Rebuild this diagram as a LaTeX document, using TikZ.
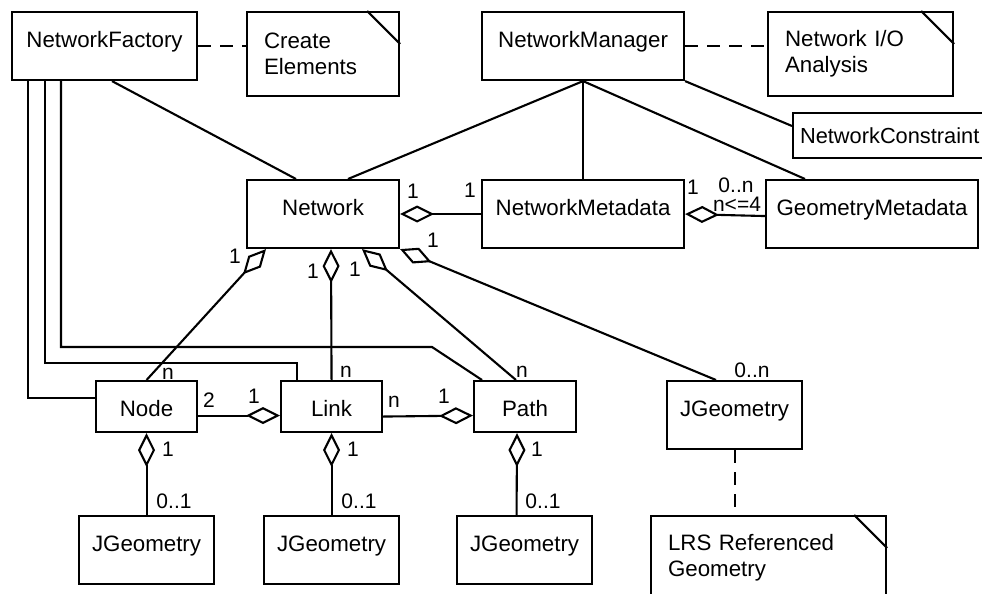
\documentclass[tikz,border=0pt]{standalone}
\usepackage{fontspec}
\setmainfont{Liberation Sans}
\usepackage{tikz}
\usetikzlibrary{arrows.meta, calc}

\begin{document}
\begin{tikzpicture}[x=1pt, y=-1pt, line width=2.1pt,
  classbox/.style={draw, anchor=north west, inner xsep=0pt, inner ysep=0pt,
    font=\fontsize{22.3}{26}\selectfont, text height=35pt, text depth=33pt},
  smallbox/.style={classbox, text height=35pt, text depth=16pt},
  notebox/.style={draw, anchor=north west, inner xsep=17pt, inner ysep=0pt, align=left,
    font=\fontsize{22.3}{26}\selectfont, minimum height=84pt},
  mult/.style={anchor=base, inner sep=0pt, font=\fontsize{21}{24}\selectfont},
  agg/.style={-{Diamond[open, length=34pt, width=17pt]}},
  notelink/.style={dash pattern=on 13pt off 9pt}]
  \fill[white] (0,0) rectangle (982,594);
  \useasboundingbox (0,0) rectangle (982,594);

  \node[classbox, minimum width=185pt] (nf) at (11,11) {NetworkFactory};
  \node[notebox, text width=118pt] (ce) at (246,11) {Create\\Elements};
  \node[classbox, minimum width=202pt] (nm) at (481,11) {NetworkManager};
  \node[notebox, text width=151pt] (nio) at (767,11) {Network I/O\\Analysis};
  \node[classbox, font=\fontsize{21.8}{26}\selectfont, text height=30pt, text depth=15pt, inner xsep=7pt] (ncon) at (792,112) {NetworkConstraint};
  \node[classbox, minimum width=152pt] (net) at (246,179) {Network};
  \node[classbox, minimum width=202pt] (nmeta) at (481,179) {NetworkMetadata};
  \node[classbox, minimum width=212pt] (gmeta) at (765,179) {GeometryMetadata};
  \node[smallbox, minimum width=101pt] (clnode) at (95,380) {Node};
  \node[smallbox, minimum width=101pt] (cllink) at (280,380) {Link};
  \node[smallbox, minimum width=102pt] (clpath) at (473,380) {Path};
  \node[classbox, minimum width=135pt] (jgr) at (666,380) {JGeometry};
  \node[classbox, minimum width=135pt] (jgnode) at (78,515) {JGeometry};
  \node[classbox, minimum width=135pt] (jglink) at (263,515) {JGeometry};
  \node[classbox, minimum width=135pt] (jgpath) at (456,515) {JGeometry};
  \node[notebox, text width=201pt] (lrs) at (650,515) {LRS Referenced\\Geometry};

  \foreach \n in {ce, nio, lrs}
    \draw ($(\n.north east)+(-33,0)$) -- ($(\n.north east)+(0,33)$);

  \draw[notelink] (nf.east) -- (nf.east -| ce.west);
  \draw[notelink] (nm.east) -- (nm.east -| nio.west);
  \draw[notelink] (jgr.south) -- (jgr.south |- lrs.north);

  \draw ($(nf.south west)+(17,0)$) |- ($(clnode.west)+(0,-8.5)$);
  \draw ($(nf.south west)+(34,0)$) |- ($(cllink.north west)+(17,-17)$) -- ($(cllink.north west)+(17,0)$);
  \draw ($(nf.south west)+(50,0)$) |- ($(clpath.north west)+(-41,-33)$) -- ($(clpath.north west)+(9,0)$);
  \draw ($(nf.south west)+(101,0)$) -- ($(net.north west)+(50,0)$);
  \draw (nm.south) -- ($(net.north west)+(102,0)$);
  \draw (nm.south) -- (nmeta.north);
  \draw (nm.south) -- ($(gmeta.north west)+(40,0)$);
  \draw (nm.south east) -- ($(ncon.north west)+(0,14)$);

  \draw[agg] (nmeta.west) -- (net.east);
  \draw[agg] ($(gmeta.west)+(0,2)$) -- (nmeta.east);
  \draw[agg] (clnode.north) -- ($(net.south west)+(20,0)$);
  \draw[agg] (cllink.north) -- ($(net.south west)+(85,0)$);
  \draw[agg] ($(clpath.north west)+(43,0)$) -- ($(net.south west)+(116,0)$);
  \draw[agg] ($(jgr.north west)+(50,0)$) -- (net.south east);
  \draw[agg] ($(clnode.east)+(0,9)$) -- ($(cllink.west)+(0,9)$);
  \draw[agg] ($(cllink.east)+(0,10)$) -- ($(clpath.west)+(0,9)$);
  \draw[agg] (jgnode.north) -- (clnode.south);
  \draw[agg] (jglink.north) -- (cllink.south);
  \draw[agg] ($(jgpath.north)+(-8,0)$) -- ($(clpath.south)+(-8,0)$);

  \node[mult] (m1) at (413,198) {1};
  \node[mult] (m2) at (470,197) {1};
  \node[mult] (m3) at (693,194) {1};
  \node[mult] (m4) at (736,192) {0..n};
  \node[mult] (m5) at (737,211) {n<=4};
  \node[mult] (m6) at (235,263) {1};
  \node[mult] (m7) at (313,278) {1};
  \node[mult] (m8) at (355,276) {1};
  \node[mult] (m9) at (433,247) {1};
  \node[mult] (m10) at (168,379) {n};
  \node[mult] (m11) at (346,377) {n};
  \node[mult] (m12) at (522,377) {n};
  \node[mult] (m13) at (752,377) {0..n};
  \node[mult] (m14) at (209,407) {2};
  \node[mult] (m15) at (254,403) {1};
  \node[mult] (m16) at (394,407) {n};
  \node[mult] (m17) at (444,403) {1};
  \node[mult] (m18) at (168,456) {1};
  \node[mult] (m19) at (174,508) {0..1};
  \node[mult] (m20) at (353,456) {1};
  \node[mult] (m21) at (359,508) {0..1};
  \node[mult] (m22) at (537,456) {1};
  \node[mult] (m23) at (543,508) {0..1};
\end{tikzpicture}
\end{document}
